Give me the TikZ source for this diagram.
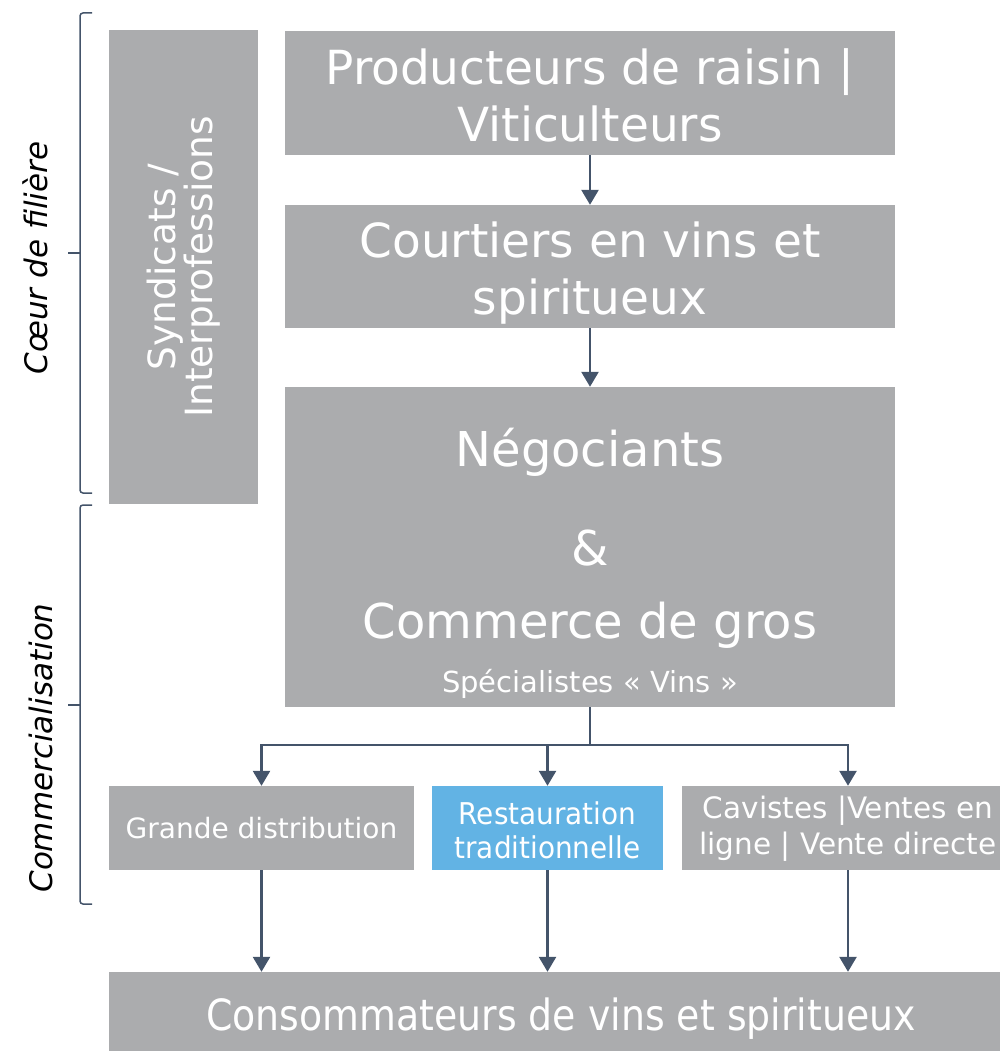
\documentclass[tikz,border=0pt]{standalone}
\usepackage{fontspec}
\setmainfont{DejaVu Sans}
\newfontfamily\condfont[FakeStretch=0.88]{DejaVu Sans}
\newfontfamily\semicondfont[FakeStretch=0.93]{DejaVu Sans}
\usetikzlibrary{arrows.meta}
\definecolor{boxgrey}{RGB}{171,172,174}
\definecolor{boxblue}{RGB}{98,179,228}
\definecolor{linecol}{RGB}{68,84,106}
\begin{document}
\begin{tikzpicture}[x=1pt,y=-1pt,
  box/.style={fill=boxgrey, draw=none, inner sep=0pt, text=white, align=center},
  txt/.style={inner sep=0pt, text=white, align=center, anchor=base},
  ctxt/.style={inner sep=0pt, text=white, align=center},
  arr/.style={draw=linecol, line width=2.6pt, -{Triangle[width=17pt,length=15pt]}},
  conn/.style={draw=linecol, line width=2.6pt},
  bracket/.style={draw=linecol, line width=1.5pt, rounded corners=3pt},
  sidelbl/.style={inner sep=0pt, rotate=90, anchor=base, text=black, font=\fontsize{31}{36}\selectfont\itshape}]

\useasboundingbox (0,0) rectangle (999,1051);

% left box
\node[box, rotate=90, minimum width=474pt, minimum height=149pt] (synd) at (183.5,267) {};
\node[ctxt, rotate=90, font=\fontsize{37.5}{36}\selectfont] (syndt) at (183.5,267) {Syndicats /\\Interprofessions};

% main chain
\node[box, minimum width=610pt, minimum height=124pt] (prod) at (590,93) {};
\node[ctxt, font=\fontsize{47}{57}\selectfont] (prodt) at (590,95) {Producteurs de raisin |\\Viticulteurs};
\node[box, minimum width=610pt, minimum height=123pt] (court) at (590,266.5) {};
\node[ctxt, font=\fontsize{47}{57}\selectfont] (courtt) at (590,273.5) {Courtiers en vins et\\spiritueux};
\node[box, minimum width=610pt, minimum height=320pt] (neg) at (590,547) {};
\node[txt, font=\fontsize{48}{57}\selectfont] (negt) at (590,466) {Négociants};
\node[txt, font=\fontsize{48}{57}\selectfont] (amp) at (590,565) {\&};
\node[txt, font=\fontsize{48}{57}\selectfont] (comt) at (590,638) {Commerce de gros};
\node[txt, font=\fontsize{29}{34}\selectfont] (spec) at (590,692) {Spécialistes « Vins »};

% distribution row
\node[box, minimum width=305pt, minimum height=84pt, font=\fontsize{28}{32}\selectfont]
  (gd) at (261.5,828) {Grande distribution};
\node[box, fill=boxblue, minimum width=231pt, minimum height=84pt] (rest) at (547.5,828) {};
\node[ctxt, font=\semicondfont\fontsize{30}{34}\selectfont] (restt) at (547.5,830) {Restauration\\traditionnelle};
\node[box, minimum width=332pt, minimum height=84pt] (cav) at (848,828) {};
\node[ctxt, font=\fontsize{29.5}{36}\selectfont] (cavt) at (848,829) {Cavistes |Ventes en\\ligne | Vente directe};

% consumers
\node[box, minimum width=904pt, minimum height=90pt] (cons) at (561,1017) {};
\node[ctxt, font=\condfont\fontsize{43}{50}\selectfont] (const) at (561,1019) {Consommateurs de vins et spiritueux};

% connectors
\draw[arr] (prod) -- (court);
\draw[arr] (court) -- (neg);
\coordinate (j) at (590,745);
\draw[conn] (neg.south) -- (j);
\draw[arr] (j) -| (gd.north);
\draw[arr] (j) -| (rest.north);
\draw[arr] (j) -| (cav.north);
\draw[arr] (gd.south) -- (gd.south |- cons.north);
\draw[arr] (rest.south) -- (rest.south |- cons.north);
\draw[arr] (cav.south) -- (cav.south |- cons.north);

% brackets
\draw[bracket] (92,13) -- (80,13) -- (80,493) -- (92,493);
\draw[bracket] (80,253) -- (68,253);
\draw[bracket] (92,505) -- (80,505) -- (80,904) -- (92,904);
\draw[bracket] (80,705) -- (68,705);

\node[sidelbl] (coeur) at (47,258) {Cœur de filière};
\node[sidelbl] (comm) at (52,748) {Commercialisation};
\end{tikzpicture}
\end{document}
